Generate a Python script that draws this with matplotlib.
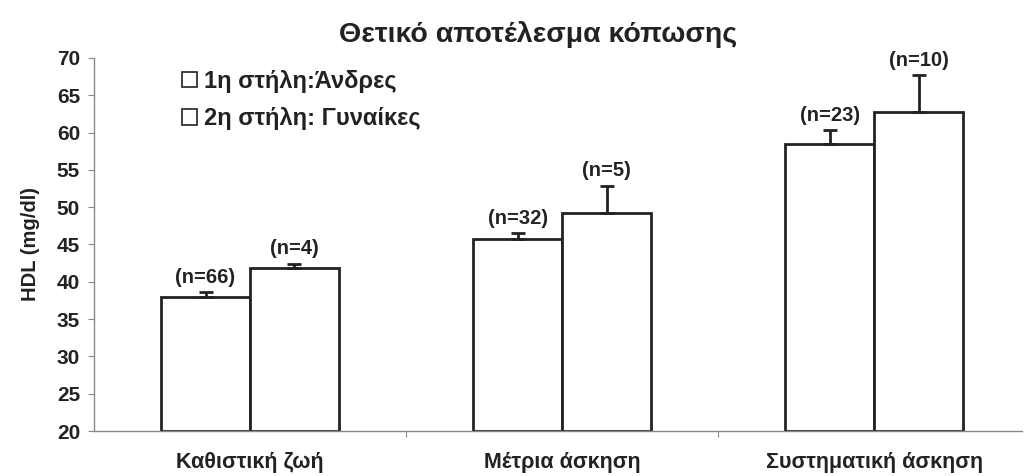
import numpy as np
import matplotlib
matplotlib.use("Agg")
import matplotlib.pyplot as plt
from matplotlib.patches import Patch

plt.rcParams["font.family"] = ["Liberation Sans", "DejaVu Sans"]
plt.rcParams["font.weight"] = "bold"

# ── Data ───────────────────────────────────────────────────────────────────────
categories = ["Καθιστική ζωή", "Μέτρια άσκηση", "Συστηματική άσκηση"]
men_vals   = [37.9, 45.7, 58.5]
women_vals = [41.9, 49.2, 62.8]
men_err    = [0.7, 0.8, 1.8]
women_err  = [0.5, 3.7, 4.9]
men_n      = ["(n=66)", "(n=32)", "(n=23)"]
women_n    = ["(n=4)", "(n=5)", "(n=10)"]
legend_labels = ["1η στήλη:Άνδρες", "2η στήλη: Γυναίκες"]
yticks = [20, 25, 30, 35, 40, 45, 50, 55, 60, 65, 70]

# ── Figure ─────────────────────────────────────────────────────────────────────
fig = plt.figure(figsize=(10.26, 4.76), dpi=100)
ax = fig.add_axes([0.0916, 0.0945, 0.9045, 0.7837])

x = np.arange(len(categories))
width = 0.285
bottom = 20
ink = "#222222"

for xs, vals, errs, labels in [
    (x - width / 2, men_vals, men_err, men_n),
    (x + width / 2, women_vals, women_err, women_n),
]:
    heights = [v - bottom for v in vals]
    ax.bar(xs, heights, width, bottom=bottom, color="white",
           edgecolor=ink, linewidth=2, zorder=2)
    ax.errorbar(xs, vals, yerr=[np.zeros(len(vals)), errs], fmt="none",
                ecolor=ink, elinewidth=2, capsize=5, capthick=2, zorder=3)
    for xi, v, e, lab in zip(xs, vals, errs, labels):
        ax.annotate(lab, (xi, v + e), xytext=(0, 4), textcoords="offset points",
                    ha="center", va="bottom", fontsize=14.5, fontweight="bold",
                    color=ink)

ax.set_xlim(-0.5, 2.474)
ax.set_ylim(20, 70)
ax.set_yticks(yticks)
ax.tick_params(axis="y", length=4, width=0.8, color="#888888",
               labelsize=15, pad=6, labelcolor=ink)

# category boundaries as major ticks, names as minor ticks
ax.set_xticks([0.5, 1.5])
ax.set_xticklabels([])
ax.tick_params(axis="x", which="major", length=4, width=0.8, color="#888888")
ax.set_xticks(x, minor=True)
ax.set_xticklabels(categories, minor=True)
ax.tick_params(axis="x", which="minor", length=0, labelsize=15.5, pad=15,
               labelcolor=ink)

for side in ["top", "right"]:
    ax.spines[side].set_visible(False)
for side in ["left", "bottom"]:
    ax.spines[side].set_color("#888888")
    ax.spines[side].set_linewidth(1)

ax.set_ylabel("HDL (mg/dl)", fontsize=14.5, fontweight="bold", labelpad=12,
              color=ink)
fig.text(0.524, 0.928, "Θετικό αποτέλεσμα κόπωσης", ha="center", va="center",
         fontsize=20.5, fontweight="bold", color=ink)

handles = [Patch(facecolor="white", edgecolor=ink, linewidth=1.2)
           for _ in legend_labels]
leg = ax.legend(handles, legend_labels, loc="upper left",
                bbox_to_anchor=(0.072, 1.025), frameon=False,
                prop={"size": 17, "weight": "bold"}, handlelength=0.65,
                handleheight=0.65, handletextpad=0.3, labelspacing=0.6)
for t in leg.get_texts():
    t.set_color(ink)

fig.savefig("out.png", dpi=100, facecolor="white")
